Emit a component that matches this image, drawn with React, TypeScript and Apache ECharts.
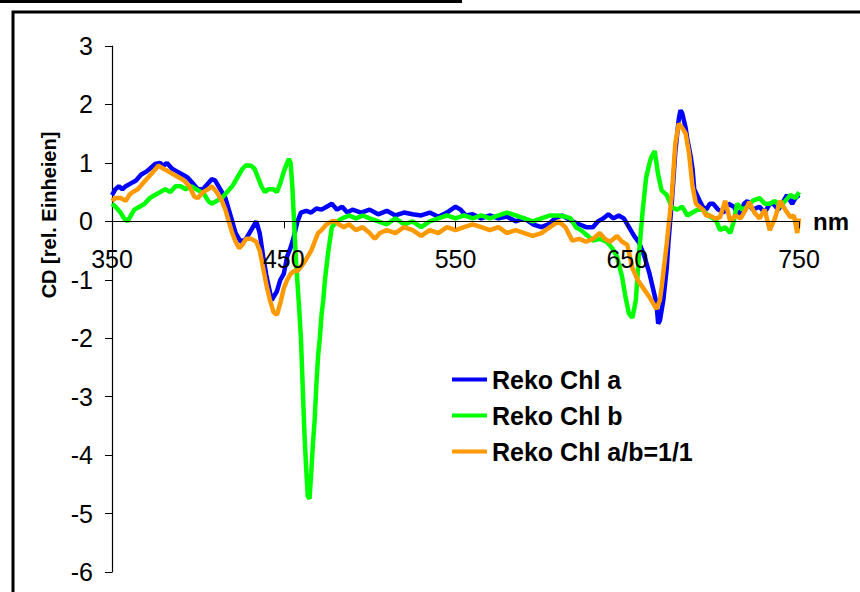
import React, { useEffect, useRef } from "react";
import * as echarts from "echarts";

const FONT = "'Liberation Sans', Arial, sans-serif";

const seriesNames = ["Reko Chl a", "Reko Chl b", "Reko Chl a/b=1/1"];
const seriesColors = ["#0000ff", "#00ff00", "#ff9900"];

const yTicks = [-6, -5, -4, -3, -2, -1, 0, 1, 2, 3];
const xTicks = [350, 450, 550, 650, 750];

const blueNm = [350,352,354,356,358,361,364,367,370,372,375,378,380,382,385,388,391,394,397,400,403,406,408,410,413,416,419,422,425,428,431,434,436,438,440,443,446,448,450,452,454,456,458,460,463,466,469,472,475,478,481,484,487,490,495,500,505,510,515,520,525,530,535,540,545,550,553,556,560,565,570,575,580,585,590,595,600,604,608,612,615,618,622,626,630,633,636,639,642,645,648,651,654,657,660,663,665,667,668,669,671,673,674,676,678,680,681,682,684,685,687,688,689,692,694,696,698,700,703,706,709,712,715,718,720,723,727,730,733,735,738,741,743,746,748,750];
const blueCD = [0.45,0.55,0.6,0.55,0.6,0.65,0.7,0.8,0.85,0.9,0.98,1.0,0.95,1.0,0.9,0.85,0.8,0.75,0.65,0.55,0.55,0.65,0.72,0.7,0.55,0.4,0.1,-0.2,-0.35,-0.3,-0.15,0.0,-0.2,-0.6,-0.95,-1.35,-1.2,-1.0,-0.9,-0.6,-0.45,-0.25,0.0,0.15,0.18,0.15,0.22,0.2,0.25,0.3,0.2,0.25,0.15,0.2,0.15,0.2,0.12,0.18,0.1,0.15,0.12,0.1,0.15,0.08,0.15,0.25,0.2,0.1,0.12,0.05,0.1,0.05,0.08,0.0,0.05,-0.05,-0.1,-0.05,0.05,0.1,0.05,0.0,-0.05,-0.1,-0.1,0.0,0.05,0.12,0.05,0.1,0.05,-0.1,-0.25,-0.37,-0.6,-0.9,-1.15,-1.4,-1.75,-1.7,-1.35,-0.8,-0.35,0.35,1.2,1.75,1.9,1.85,1.6,1.4,1.1,0.9,0.55,0.36,0.25,0.2,0.3,0.3,0.2,0.15,0.3,0.25,0.1,0.3,0.35,0.2,0.25,0.15,0.3,0.3,0.2,0.35,0.45,0.3,0.4,0.45];

const greenNm = [350,352,355,357,359,361,363,366,369,372,375,378,381,384,387,390,393,396,399,402,404,406,408,411,414,417,420,423,426,428,431,433,435,437,439,441,444,446,448,450,452,453,454,455,456,457,458,459,460,461,462,463,464,465,466,467,468,469,470,471,472,473,474,476,478,481,484,488,492,496,500,505,510,515,520,525,530,535,540,545,550,555,560,565,570,575,580,585,590,595,600,605,610,614,617,620,623,627,630,634,638,641,644,647,649,651,653,655,657,659,661,663,664,666,668,670,673,676,679,682,685,688,691,694,697,700,702,704,707,710,712,714,717,720,723,727,730,733,736,739,742,745,748,750];
const greenCD = [0.3,0.25,0.15,0.05,0.0,0.1,0.2,0.25,0.3,0.4,0.45,0.5,0.55,0.5,0.6,0.6,0.55,0.6,0.55,0.5,0.45,0.35,0.3,0.35,0.4,0.5,0.6,0.75,0.9,0.96,0.95,0.9,0.75,0.6,0.5,0.55,0.55,0.5,0.65,0.85,1.0,1.07,1.0,0.6,0.0,-0.6,-1.06,-1.5,-2.0,-2.8,-3.6,-4.2,-4.7,-4.75,-4.3,-3.8,-3.4,-2.8,-2.3,-2.0,-1.6,-1.35,-1.0,-0.5,-0.1,0.0,0.05,0.1,0.05,0.1,0.05,0.0,-0.05,0.05,-0.05,0.0,-0.1,0.0,0.05,0.1,0.05,0.1,0.05,0.1,0.05,0.1,0.15,0.1,0.05,0.0,0.05,0.1,0.1,0.08,0.05,-0.1,-0.15,-0.25,-0.33,-0.3,-0.35,-0.45,-0.6,-0.95,-1.3,-1.58,-1.65,-1.35,-0.5,0.19,0.75,1.0,1.1,1.2,0.8,0.53,0.45,0.24,0.2,0.25,0.1,0.15,0.2,0.2,0.1,0.05,0.0,-0.15,-0.1,-0.2,0.0,0.3,0.2,0.25,0.35,0.4,0.3,0.3,0.35,0.25,0.35,0.45,0.4,0.5];

const orangeNm = [350,352,355,358,360,362,365,368,371,374,377,380,383,386,389,392,395,398,400,403,406,408,411,414,416,418,420,422,424,426,428,431,434,436,438,440,442,444,446,448,450,452,454,456,458,460,462,464,466,468,470,472,475,478,480,482,485,488,492,496,500,503,506,510,515,520,525,530,535,540,545,550,555,560,565,570,575,580,585,590,595,600,605,610,614,618,622,626,630,634,637,640,644,647,650,653,656,659,663,665,667,669,670,673,676,678,680,682,684,686,688,690,692,694,696,698,701,704,707,710,713,716,719,721,724,727,730,733,736,739,742,745,747,749,750];
const orangeCD = [0.35,0.4,0.4,0.35,0.45,0.5,0.55,0.65,0.75,0.85,0.95,0.9,0.85,0.8,0.75,0.7,0.6,0.42,0.4,0.5,0.55,0.6,0.5,0.35,0.2,0.0,-0.2,-0.35,-0.46,-0.4,-0.3,-0.3,-0.35,-0.5,-0.8,-1.1,-1.35,-1.55,-1.6,-1.4,-1.15,-1.0,-0.9,-0.85,-0.85,-0.78,-0.7,-0.6,-0.5,-0.35,-0.2,-0.15,-0.05,0.0,0.0,-0.05,-0.1,-0.05,-0.15,-0.1,-0.2,-0.3,-0.2,-0.15,-0.2,-0.1,-0.15,-0.25,-0.15,-0.2,-0.1,-0.15,-0.1,-0.05,-0.1,-0.15,-0.1,-0.2,-0.15,-0.2,-0.25,-0.2,-0.1,0.0,-0.1,-0.33,-0.3,-0.35,-0.3,-0.2,-0.3,-0.35,-0.25,-0.35,-0.4,-0.8,-1.0,-1.13,-1.3,-1.4,-1.5,-1.35,-1.13,-0.38,0.47,1.33,1.67,1.6,1.5,1.16,0.6,0.3,0.25,0.2,0.1,0.1,0.05,0.07,0.35,0.0,0.1,0.05,0.2,0.33,0.15,0.05,0.2,-0.15,0.05,0.35,0.2,0.07,0.1,-0.2,0.05];

const seriesX = [blueNm, greenNm, orangeNm];
const seriesY = [blueCD, greenCD, orangeCD];

const W = 860;
const H = 592;
const GRID = { left: 112, right: 61, top: 46, bottom: 20 };

export default function App() {
  const ref = useRef<HTMLDivElement>(null);
  useEffect(() => {
    if (!ref.current) return;
    const chart = echarts.init(ref.current, undefined, { renderer: "svg" });
    const yMin = yTicks[0];
    const yMax = yTicks[yTicks.length - 1];
    const gridH = H - GRID.top - GRID.bottom;
    // move the x axis up to the y = 0 line
    const xOffset = -gridH * ((0 - yMin) / (yMax - yMin));
    const series = seriesNames.map((name, i) => ({
      name,
      type: "line",
      data: seriesX[i].map((x, k) => [x, seriesY[i][k]]),
      showSymbol: false,
      symbol: "none",
      lineStyle: { color: seriesColors[i], width: 4.5 },
      itemStyle: { color: seriesColors[i] },
      z: 2 + i,
    }));
    chart.setOption({
      animation: false,
      backgroundColor: "#ffffff",
      textStyle: { fontFamily: FONT },
      grid: { ...GRID, containLabel: false, outerBoundsMode: "none" },
      xAxis: {
        type: "value",
        min: xTicks[0],
        max: xTicks[xTicks.length - 1],
        interval: 100,
        offset: xOffset,
        name: "nm",
        nameLocation: "end",
        nameGap: 14,
        nameTextStyle: { fontFamily: FONT, fontSize: 24, fontWeight: "bold", color: "#000" },
        axisLine: { onZero: false, lineStyle: { color: "#000", width: 1.2 } },
        axisTick: { show: true, inside: false, length: 7, lineStyle: { color: "#000" } },
        axisLabel: { fontFamily: FONT, fontSize: 25, color: "#000", margin: 25, showMinLabel: true, showMaxLabel: true },
        splitLine: { show: false },
        z: 10,
      },
      yAxis: {
        type: "value",
        min: yMin,
        max: yMax,
        interval: 1,
        axisLine: { show: true, lineStyle: { color: "#000", width: 1.2 } },
        axisTick: { show: true, inside: false, length: 7, lineStyle: { color: "#000" } },
        axisLabel: { fontFamily: FONT, fontSize: 25, color: "#000", margin: 19 },
        splitLine: { show: false },
      },
      legend: {
        data: seriesNames,
        orient: "vertical",
        left: 447,
        top: 362,
        itemWidth: 35,
        itemHeight: 4,
        itemGap: 11,
        icon: "rect",
        textStyle: { fontFamily: FONT, fontSize: 25, fontWeight: "bold", color: "#000" },
      },
      graphic: [
        { type: "rect", shape: { x: 0, y: 0, width: 462, height: 3 }, style: { fill: "#000" } },
        {
          type: "polyline",
          shape: { points: [[13, 600], [13, 12], [870, 12]] },
          style: { stroke: "#000", lineWidth: 3, fill: "none" },
        },
        {
          type: "text",
          x: 49,
          y: 215,
          rotation: Math.PI / 2,
          style: {
            text: "CD [rel. Einheien]",
            fontFamily: FONT,
            fontSize: 20,
            fontWeight: "bold",
            fill: "#000",
            align: "center",
            verticalAlign: "middle",
          },
        },
      ],
      series,
    });
    return () => chart.dispose();
  }, []);
  return (
    <div
      ref={ref}
      style={{ position: "absolute", left: 0, top: 0, width: W, height: H }}
    />
  );
}
